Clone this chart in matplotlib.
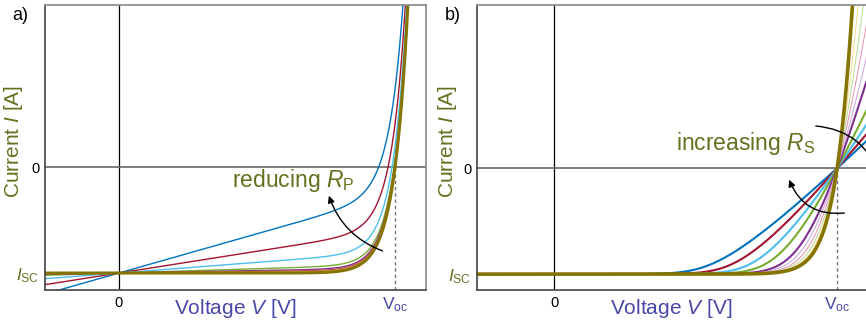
import numpy as np
import matplotlib.pyplot as plt

plt.rcParams.update({'font.family': 'Liberation Sans'})
plt.rcParams.update({'mathtext.fontset': 'custom'})
plt.rcParams.update({'mathtext.rm': 'Liberation Sans'})
plt.rcParams.update({'mathtext.it': 'Liberation Sans:italic'})

# diode model parameters (Isc = 1, Voc = 1 in normalised units)
v_thermal = 0.05

# a) shunt conductance 1/Rp for each curve, largest first
shunt_g = [0.74, 0.41, 0.20, 0.08, 0.045, 0.03, 0.015, 0.0]
colors_a = ['#0072BD', '#A2142F', '#4DBEEE', '#77AC30', '#7E2F8E', '#C0504D', '#D9A23A', '#857400']
widths_a = [1.0, 1.0, 1.0, 1.0, 1.0, 1.0, 1.0, 2.2]

# b) series resistance Rs for each curve, largest first
series_r = [0.36, 0.28, 0.21, 0.15, 0.09, 0.065, 0.045, 0.03, 0.018, 0.005]
colors_b = ['#0072BD', '#A2142F', '#4DBEEE', '#77AC30', '#7E2F8E',
            '#C9A0DC', '#E58FAF', '#B8DC90', '#F5D98A', '#857400']
widths_b = [1.5, 1.5, 1.5, 1.5, 1.5, 0.7, 0.7, 0.7, 0.7, 2.6]

olive = '#66701f'
violet = '#4848a8'
spine_dark = '#444444'
spine_light = '#888888'

fig = plt.figure(figsize=(8.66, 3.24), dpi=100)
ax_a = fig.add_axes([45/866., 34/324., 381/866., 285/324.])
ax_b = fig.add_axes([477/866., 34/324., 389/866., 285/324.])

# panel a
V = np.linspace(-0.35, 1.2, 800)
for g, c, w in zip(shunt_g, colors_a, widths_a):
    I = -1. + np.exp((V - 1.)/v_thermal) + g*V
    ax_a.plot(V, I, color=c, lw=w)
ax_a.set_xlim(-0.268, 1.112)
ax_a.set_ylim(-1.16, 1.53)

# panel b, V as function of I
Ib = -1. + np.logspace(-14, np.log10(2.7), 1500)
for r, c, w in zip(series_r, colors_b, widths_b):
    Vb = 1. + v_thermal*np.log(Ib + 1.) + Ib*r
    ax_b.plot(Vb, Ib, color=c, lw=w)
ax_b.set_xlim(-0.272, 1.102)
ax_b.set_ylim(-1.15, 1.54)

for ax in (ax_a, ax_b):
    ax.axvline(0, color='k', lw=0.9, zorder=0)
    ax.axhline(0, color='#666666', lw=1.2, zorder=0)
    ax.plot([1, 1], [ax.get_ylim()[0], 0], ls=(0, (2.5, 2)), color='#777777', lw=1.0, zorder=0)
    ax.set_xticks([0, 1])
    ax.set_xticklabels(['0', r'$\mathrm{V_{oc}}$'])
    ax.set_yticks([-1, 0])
    ax.set_yticklabels([r'$I_{\mathrm{SC}}$', '0'])
    ax.tick_params(length=0, pad=4)
    xl = ax.get_xticklabels()
    xl[0].set_fontsize(10.5); xl[0].set_color('k')
    xl[1].set_fontsize(12.5); xl[1].set_color(violet)
    yl = ax.get_yticklabels()
    yl[0].set_fontsize(12.5); yl[0].set_color(olive)
    yl[1].set_fontsize(10.5); yl[1].set_color('k')
    ax.set_xlabel(r'Voltage $V$ [V]', fontsize=15, color=violet)
    ax.set_ylabel(r'Current $I$ [A]', fontsize=15, color=olive)
    ax.xaxis.set_label_coords(0.5, -0.025)
    ax.spines['top'].set_color(spine_light)
    ax.spines['right'].set_color(spine_light)
    ax.spines['left'].set_color(spine_dark)
    ax.spines['bottom'].set_color(spine_dark)
    for s in ax.spines.values():
        s.set_linewidth(1.2)

ax_a.yaxis.set_label_coords(-0.052, 0.52)
ax_b.yaxis.set_label_coords(-0.046, 0.52)
ax_b.spines['right'].set_visible(False)

ax_a.text(0.63, -0.13, r'reducing $R_{\mathrm{P}}$', fontsize=16.5, color=olive, ha='center', va='center')
ax_b.text(0.678, 0.236, r'increasing $R_{\mathrm{S}}$', fontsize=16.5, color=olive, ha='center', va='center')

arrow = dict(arrowstyle='-|>', color='k', lw=1.0, mutation_scale=10)
ax_a.annotate('', xy=(0.757, -0.245), xytext=(0.964, -0.80),
              arrowprops=dict(arrow, connectionstyle='arc3,rad=-0.25'))
ax_b.annotate('', xy=(0.827, -0.085), xytext=(1.035, -0.42),
              arrowprops=dict(arrow, connectionstyle='arc3,rad=-0.4'), annotation_clip=False)
ax_b.annotate('', xy=(1.152, -0.11), xytext=(0.915, 0.40),
              arrowprops=dict(arrow, connectionstyle='arc3,rad=-0.35'), annotation_clip=False)

fig.text(12/866., 1 - 16/324., 'a)', fontsize=13, va='center')
fig.text(445/866., 1 - 16/324., 'b)', fontsize=13, va='center')

fig.savefig('out.png', dpi=100)
plt.close(fig)
